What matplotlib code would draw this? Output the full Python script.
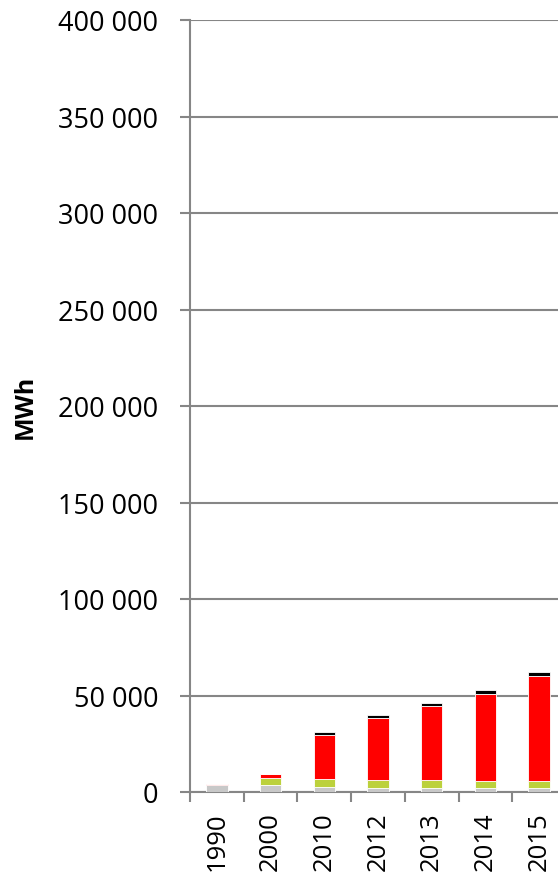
import numpy as np
import matplotlib.pyplot as plt
from matplotlib.ticker import FuncFormatter, FixedLocator

plt.rcParams['font.family'] = ['Open Sans', 'DejaVu Sans']

years = ['1990', '2000', '2010', '2012', '2013', '2014', '2015']
grey = [3800, 3500, 2800, 2200, 2200, 2200, 2200]
green = [0, 3500, 3800, 3800, 3800, 3500, 3500]
red = [250, 2100, 23100, 32300, 38700, 45200, 54400]
black = [0, 0, 1400, 1600, 1600, 2100, 2200]

W, H = 558, 879
fig = plt.figure(figsize=(W / 100, H / 100), dpi=100)
# axes runs past the right edge of the picture, as in the reference
ax = fig.add_axes([190 / W, 86 / H, 376 / W, 772 / H])

x = np.arange(len(years))
bw = 0.4
bottom = np.zeros(len(years))
for vals, col in [(grey, '#c8c8c8'), (green, '#bcd13c'), (red, '#ff0000'), (black, '#000000')]:
    ax.bar(x, vals, bw, bottom=bottom, color=col, edgecolor='white', linewidth=0.6, zorder=3)
    bottom += np.array(vals)

ax.set_xlim(-0.5, len(years) - 0.5)
ax.set_ylim(0, 400000)
ax.set_yticks(np.arange(0, 400001, 50000))
ax.yaxis.set_major_formatter(FuncFormatter(lambda v, p: f'{int(v):,}'.replace(',', ' ')))
ax.grid(axis='y', color='#868686', linewidth=1.5, zorder=0)

ax.set_xticks(x)
ax.set_xticklabels(years, rotation=90, fontsize=18.5)
ax.tick_params(axis='x', which='major', length=0, pad=14)
ax.xaxis.set_minor_locator(FixedLocator(np.arange(-0.5, len(years), 1)))
ax.tick_params(axis='x', which='minor', length=7, width=1.5, color='#868686')
ax.tick_params(axis='y', length=7, width=1.5, color='#868686', labelsize=19.5, pad=16)

for s in ['top', 'right']:
    ax.spines[s].set_visible(False)
for s in ['left', 'bottom']:
    ax.spines[s].set_color('#868686')
    ax.spines[s].set_linewidth(1.5)

ax.set_ylabel('MWh', fontsize=18, fontweight='bold')
ax.yaxis.set_label_coords(-152 / 376, 0.5)

fig.savefig('out.png', dpi=100)
